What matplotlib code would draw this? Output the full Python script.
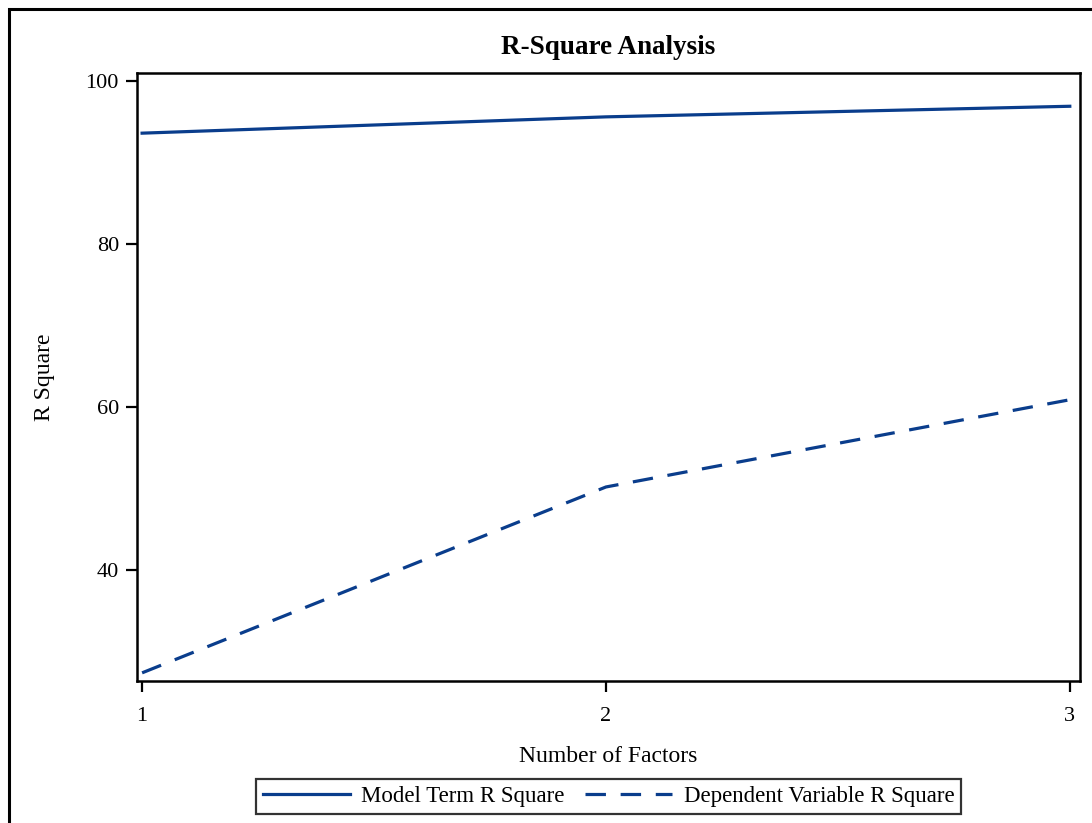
import matplotlib.pyplot as plt
from matplotlib.patches import Rectangle

factors = [1, 2, 3]
model_term_r2 = [93.6, 95.6, 96.9]
dependent_var_r2 = [27.4, 50.2, 60.9]
y_ticks = [40, 60, 80, 100]

line_color = "#0a3d8c"

plt.rcParams["font.family"] = ["Liberation Serif", "DejaVu Serif"]

fig = plt.figure(figsize=(10.92, 8.23), dpi=100)
ax = fig.add_axes([137 / 1092, 1 - 681 / 823, (1080 - 137) / 1092, (681 - 73) / 823])

# outer frame, cut off at right and bottom
fig.patches.append(Rectangle((9 / 1092, -0.05), 1.2, 1 - 9 / 823 + 0.05,
                             transform=fig.transFigure, fill=False,
                             edgecolor="black", linewidth=2.2))

ax.plot(factors, model_term_r2, color=line_color, linewidth=2.3,
        label="Model Term R Square")
ax.plot(factors, dependent_var_r2, color=line_color, linewidth=2.3,
        dashes=(6.4, 4.6), label="Dependent Variable R Square")

ax.set_xlim(0.989, 3.022)
ax.set_ylim(26.4, 100.98)
ax.set_xticks(factors)
ax.set_yticks(y_ticks)
ax.tick_params(labelsize=16, length=8, width=1.6)
ax.tick_params(axis="x", pad=11)
ax.tick_params(axis="y", pad=5)
for s in ax.spines.values():
    s.set_linewidth(1.8)

ax.set_title("R-Square Analysis", fontsize=19.5, fontweight="bold", pad=14)
ax.set_xlabel("Number of Factors", fontsize=17, labelpad=14)
ax.set_ylabel("R Square", fontsize=17, labelpad=22)

leg = ax.legend(loc="upper center", bbox_to_anchor=(0.5, -0.161), ncol=2,
                fontsize=16.5, frameon=True, fancybox=False, edgecolor="black",
                handlelength=3.8, columnspacing=0.9, borderpad=0.3,
                handletextpad=0.5, borderaxespad=0)
leg.get_frame().set_linewidth(1.6)

fig.savefig("out.png", dpi=100)
